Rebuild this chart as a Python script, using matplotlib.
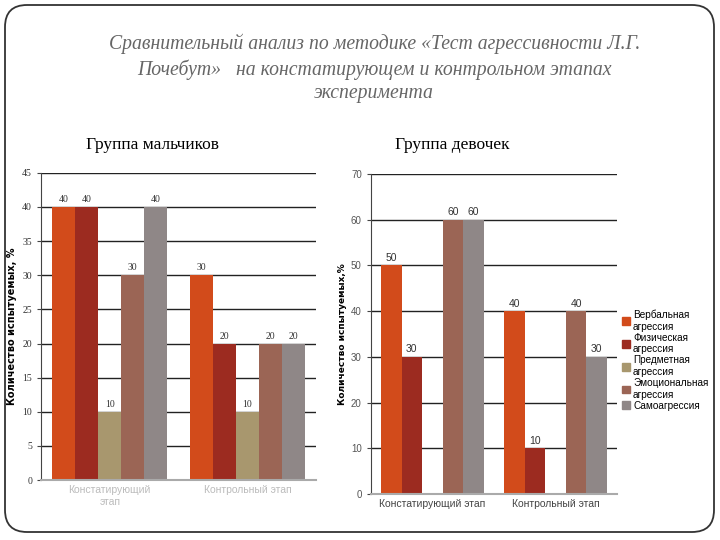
import numpy as np
import matplotlib
matplotlib.use("Agg")
import matplotlib.pyplot as plt
from matplotlib.patches import FancyBboxPatch, Patch
from matplotlib.transforms import IdentityTransform

# --------------------------------------------
# DATA
# --------------------------------------------

stages_boys = ["Констатирующий\nэтап", "Контрольный этап"]
stages_girls = ["Констатирующий этап", "Контрольный этап"]

series = [
    "Вербальная\nагрессия",
    "Физическая\nагрессия",
    "Предметная\nагрессия",
    "Эмоциональная\nагрессия",
    "Самоагрессия",
]

# values per series: [констатирующий, контрольный]
boys = [
    [40, 30],
    [40, 20],
    [10, 10],
    [30, 20],
    [40, 20],
]

girls = [
    [50, 40],
    [30, 10],
    [0, 0],
    [60, 40],
    [60, 30],
]

colors = ["#D24B1B", "#9C2B20", "#A8976E", "#9B6555", "#8F8787"]

title = ("Сравнительный анализ по методике «Тест агрессивности Л.Г.\n"
         "Почебут»   на констатирующем и контрольном этапах\n"
         "эксперимента")

# --------------------------------------------
# FIGURE
# --------------------------------------------

fig = plt.figure(figsize=(7.2, 5.4), dpi=100)

# slide frame (pixel coords)
frame = FancyBboxPatch((5, 540 - 532), 709, 527,
                       boxstyle="round,pad=0,rounding_size=22",
                       transform=IdentityTransform(),
                       facecolor="none", edgecolor="#333333",
                       linewidth=1.3, zorder=5)
fig.patches.append(frame)

fig.text(0.52, 0.937, title, ha="center", va="top", style="italic",
         family="Liberation Serif", fontsize=14.2, color="#666666",
         linespacing=1.32)

fig.text(0.12, 0.731, "Группа мальчиков", ha="left", va="center",
         family="Liberation Serif", fontsize=12.5, color="black")
fig.text(0.548, 0.731, "Группа девочек", ha="left", va="center",
         family="Liberation Serif", fontsize=12.5, color="black")

width = 0.167
x = np.arange(2)
offsets = (np.arange(5) - 2) * width


def style_axes(ax, ymax, step, tick_family, tick_color):
    ax.set_xlim(-0.5, 1.5)
    ax.set_ylim(0, ymax)
    ax.set_yticks(np.arange(0, ymax + 1, step))
    ax.yaxis.grid(True, color="#222222", linewidth=1.0)
    ax.set_axisbelow(True)
    for s in ["top", "right"]:
        ax.spines[s].set_visible(False)
    ax.spines["left"].set_color("#444444")
    ax.spines["bottom"].set_color("#aaaaaa")
    ax.spines["bottom"].set_linewidth(1.5)
    ax.tick_params(axis="y", length=3, color="#444444", labelsize=7,
                   labelcolor=tick_color)
    ax.tick_params(axis="x", length=0, labelcolor=tick_color)
    for lbl in ax.get_yticklabels():
        lbl.set_family(tick_family)


# --------------------------------------------
# LEFT: BOYS
# --------------------------------------------

ax1 = fig.add_axes([0.057, 0.111, 0.382, 0.569])
for i in range(5):
    bars = ax1.bar(x + offsets[i], boys[i], width, color=colors[i],
                   edgecolor="none")
    for b, v in zip(bars, boys[i]):
        if v > 0:
            ax1.text(b.get_x() + b.get_width() / 2, v + 0.4, str(v),
                     ha="center", va="bottom", fontsize=7,
                     family="Liberation Serif", color="#333333")
style_axes(ax1, 45, 5, "Liberation Serif", "#333333")
ax1.set_xticks(x)
ax1.set_xticklabels(stages_boys, fontsize=7.5, color="#bbbbbb",
                    family="Liberation Sans")
ax1.set_ylabel("Количество испытуемых, %", fontsize=7, fontweight="bold",
               family="DejaVu Sans", labelpad=4)

# --------------------------------------------
# RIGHT: GIRLS
# --------------------------------------------

ax2 = fig.add_axes([0.515, 0.0852, 0.342, 0.593])
for i in range(5):
    bars = ax2.bar(x + offsets[i], girls[i], width, color=colors[i],
                   edgecolor="none", label=series[i])
    for b, v in zip(bars, girls[i]):
        if v > 0:
            ax2.text(b.get_x() + b.get_width() / 2, v + 0.5, str(v),
                     ha="center", va="bottom", fontsize=7.5,
                     family="Liberation Sans", color="#333333")
style_axes(ax2, 70, 10, "Liberation Sans", "#555555")
ax2.set_xticks(x)
ax2.set_xticklabels(stages_girls, fontsize=7.5, color="#444444",
                    family="Liberation Sans")
ax2.set_ylabel("Количество испытуемых,%", fontsize=6.5, fontweight="bold",
               family="DejaVu Sans", labelpad=3)

handles = [Patch(color=c, label=s) for c, s in zip(colors, series)]
fig.legend(handles=handles, loc="center left",
           bbox_to_anchor=(0.857, 0.333), frameon=False,
           handlelength=0.8, handleheight=0.8, handletextpad=0.3,
           labelspacing=0.1, borderpad=0, prop={"family": "Liberation Sans",
                                                "size": 7.2})

fig.savefig("out.png", dpi=100)
